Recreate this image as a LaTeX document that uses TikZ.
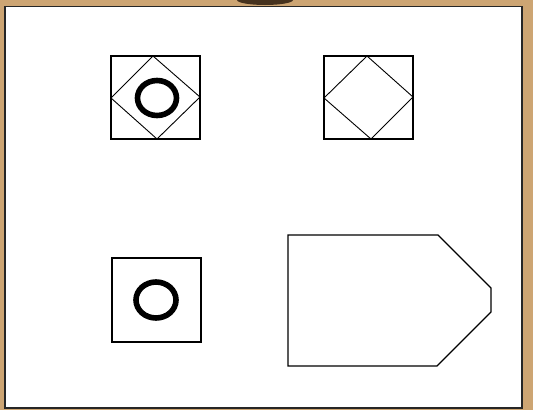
\documentclass[tikz,border=0pt]{standalone}
\definecolor{frametan}{RGB}{205,165,115}
\definecolor{framedark}{RGB}{70,50,30}
\begin{document}
\begin{tikzpicture}[x=1pt,y=-1pt,
  box/.style={draw=black,line width=1.2pt},
  thin/.style={draw=black,line width=0.9pt},
  ring/.style={draw=black,line width=5.6pt}]
\useasboundingbox (0,0) rectangle (533,410);
\fill[frametan] (0,0) rectangle (533,410);
\fill[framedark] (265,0) ellipse (28 and 5);
\filldraw[fill=white,draw=black!85,line width=1.8pt] (5,6.5) rectangle (522,408);
% top-left
\draw[box] (111,56) rectangle (200,139);
\draw[thin] (153,56) -- (200,97) -- (157,139) -- (111,98) -- cycle;
\draw[ring] (157,98) ellipse (19.5 and 17.5);
% top-right
\draw[box] (324,56) rectangle (413,139);
\draw[thin] (367,56) -- (413,97) -- (371,139) -- (324,98) -- cycle;
% bottom-left
\draw[box] (112,258) rectangle (201,342);
\draw[ring] (156,300) ellipse (20 and 18);
% pentagon
\draw[box] (288,235) -- (438,235) -- (491,288) -- (491,312) -- (437,366) -- (288,366) -- cycle;
\end{tikzpicture}
\end{document}
